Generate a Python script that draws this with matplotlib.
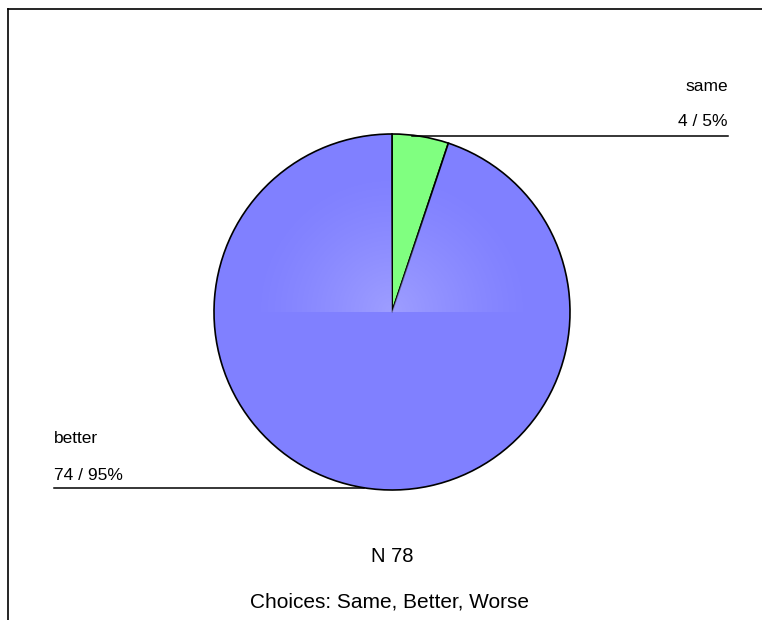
#!/usr/bin/env python3
# -*- coding: utf-8 -*-
'''
Pie of answers (same / better), N 78, drawn on a pixel-sized canvas.
'''
import matplotlib
matplotlib.use('Agg')
import numpy as np
import matplotlib.pyplot as plt

plt.rcParams['font.family'] = ['Liberation Sans', 'DejaVu Sans']

labels = ['same', 'better']
counts = [4, 74]
colors = ['#80ff80', '#8080ff']
total_n = sum(counts)
subtitle = 'Choices: Same, Better, Worse'

W, H = 762, 620
fig = plt.figure(figsize=(W / 100, H / 100), dpi=100)
ax = fig.add_axes([0, 0, 1, 1])

cx, cy, r = 392, 312, 178
# y axis is flipped, so counterclock in data = clockwise on screen
wedges, _ = ax.pie(counts, colors=colors, center=(cx, cy), radius=r, startangle=-90,
                   counterclock=True, frame=True,
                   wedgeprops=dict(edgecolor='black', linewidth=1.2))

# light sheen toward the centre in the upper half of the big slice
yy, xx = np.mgrid[cy - r:cy:200j, cx - r:cx + r:400j]
dist = np.hypot(xx - cx, yy - cy) / r
rgba = np.zeros(dist.shape + (4,))
rgba[..., 0] = rgba[..., 1] = 0.66; rgba[..., 2] = 1.0
rgba[..., 3] = np.clip(1 - dist / 0.8, 0, 1) ** 1.3 * 0.75
im = ax.imshow(rgba, extent=(cx - r, cx + r, cy, cy - r), zorder=wedges[1].get_zorder() + 0.1,
               interpolation='bilinear')
im.set_clip_path(wedges[1])
ax.set_xlim(0, W); ax.set_ylim(H, 0)
ax.set_aspect('equal'); ax.axis('off')

pcts = [round(100 * c / total_n) for c in counts]

# frame lines (top + left)
ax.plot([8, 8], [H, 9], color='black', lw=1.2)
ax.plot([8, W], [9, 9], color='black', lw=1.2)

# 'same' label, top right
ax.plot([cx + 20, 728], [136, 136], color='black', lw=1.1)
ax.text(728, 91, labels[0], ha='right', va='baseline', fontsize=12.5)
ax.text(728, 126, f'{counts[0]} / {pcts[0]}%', ha='right', va='baseline', fontsize=12.5)

# 'better' label, bottom left
ax.plot([54, cx - 28], [488, 488], color='black', lw=1.1)
ax.text(54, 443, labels[1], ha='left', va='baseline', fontsize=12.5)
ax.text(54, 480, f'{counts[1]} / {pcts[1]}%', ha='left', va='baseline', fontsize=12.5)

ax.text(cx, 562, f'N {total_n}', ha='center', va='baseline', fontsize=14.5)
ax.text(389, 607, subtitle, ha='center', va='baseline', fontsize=15)

fig.savefig('out.png', dpi=100)
